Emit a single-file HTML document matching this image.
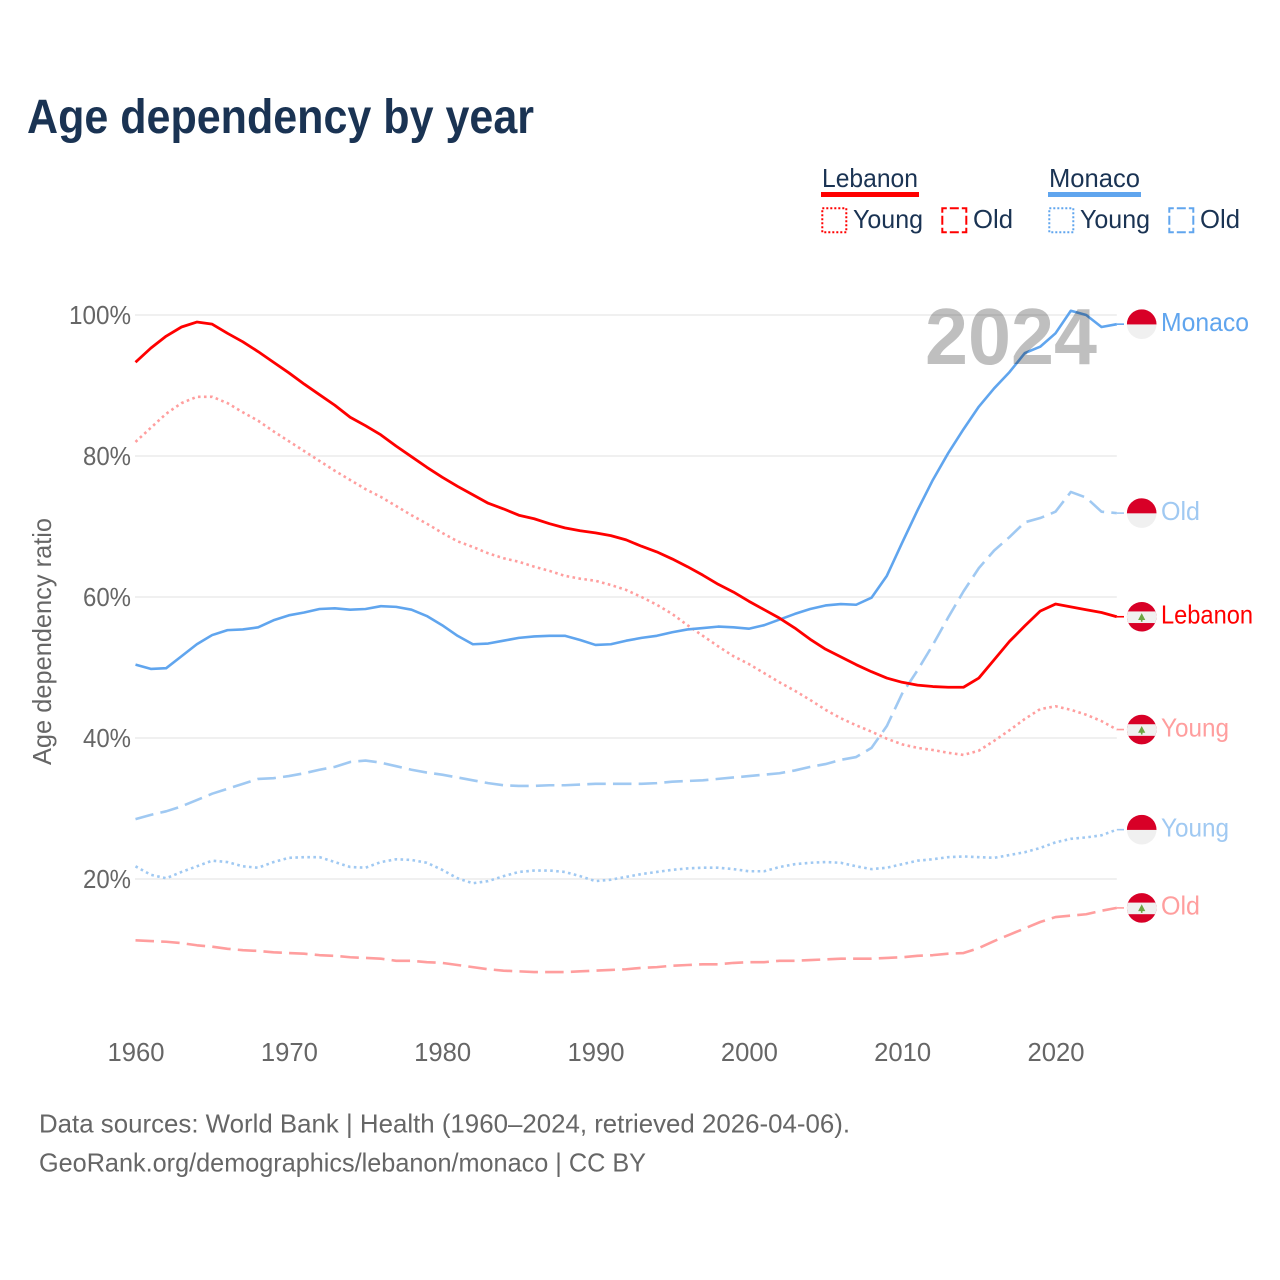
<!DOCTYPE html>
<html lang="en">
<head>
<meta charset="utf-8">
<title>Age dependency by year</title>
<style>
html,body{margin:0;padding:0;background:#fff;width:1280px;height:1280px;overflow:hidden}
svg{display:block}
text{font-family:"Liberation Sans",Arial,sans-serif}
</style>
</head>
<body>
<svg id="chart" xmlns="http://www.w3.org/2000/svg" width="1280" height="1280" viewBox="0 0 1280 1280">
  <defs>
    <clipPath id="flag-clip"><circle cx="0" cy="0" r="14.8"/></clipPath>
  </defs>
  <rect x="0" y="0" width="1280" height="1280" fill="#fff"/>
  <text x="27" y="133" font-size="48" font-weight="700" fill="#1a3353" textLength="507" lengthAdjust="spacingAndGlyphs">Age dependency by year</text>

  <g font-size="26" fill="#1a3353">
    <text x="822" y="187" textLength="96" lengthAdjust="spacingAndGlyphs">Lebanon</text>
    <rect x="821" y="192" width="98" height="5" fill="#ff0000"/>
    <rect x="822.3" y="208.3" width="24" height="24" fill="none" stroke="#ff0000" stroke-width="2" stroke-dasharray="2 2"/>
    <text x="853" y="228" textLength="70" lengthAdjust="spacingAndGlyphs">Young</text>
    <rect x="942.3" y="208.3" width="24" height="24" fill="none" stroke="#ff0000" stroke-width="2" stroke-dasharray="9 3" stroke-dashoffset="4.5"/>
    <text x="973" y="228" textLength="40" lengthAdjust="spacingAndGlyphs">Old</text>
    <text x="1049" y="187" textLength="91" lengthAdjust="spacingAndGlyphs">Monaco</text>
    <rect x="1048" y="192" width="93" height="5" fill="#60a5ee"/>
    <rect x="1049.3" y="208.3" width="24" height="24" fill="none" stroke="#60a5ee" stroke-width="2" stroke-dasharray="2 2"/>
    <text x="1080" y="228" textLength="70" lengthAdjust="spacingAndGlyphs">Young</text>
    <rect x="1169.3" y="208.3" width="24" height="24" fill="none" stroke="#60a5ee" stroke-width="2" stroke-dasharray="9 3" stroke-dashoffset="4.5"/>
    <text x="1200" y="228" textLength="40" lengthAdjust="spacingAndGlyphs">Old</text>
  </g>

  <g id="grid"></g>
  <g id="y-ticks" font-size="26" fill="#666"></g>
  <g id="x-ticks" font-size="26" fill="#666"></g>
  <text transform="translate(51,765) rotate(-90)" font-size="26" fill="#666" textLength="247" lengthAdjust="spacingAndGlyphs">Age dependency ratio</text>

  <g id="lines" fill="none" stroke-linejoin="round"></g>
  <text x="925" y="364" font-size="80" font-weight="700" fill="#000" fill-opacity="0.25" textLength="172" lengthAdjust="spacingAndGlyphs">2024</text>
  <g id="end-labels" font-size="26"></g>

  <g font-size="26" fill="#666">
    <text x="39" y="1132.5" textLength="811" lengthAdjust="spacingAndGlyphs">Data sources: World Bank | Health (1960–2024, retrieved 2026-04-06).</text>
    <text x="39" y="1171.5" textLength="607" lengthAdjust="spacingAndGlyphs">GeoRank.org/demographics/lebanon/monaco | CC BY</text>
  </g>
</svg>
<script>
const years = [1960,1961,1962,1963,1964,1965,1966,1967,1968,1969,1970,1971,1972,1973,1974,1975,1976,1977,1978,1979,1980,1981,1982,1983,1984,1985,1986,1987,1988,1989,1990,1991,1992,1993,1994,1995,1996,1997,1998,1999,2000,2001,2002,2003,2004,2005,2006,2007,2008,2009,2010,2011,2012,2013,2014,2015,2016,2017,2018,2019,2020,2021,2022,2023,2024];
const lebanonTotal = [93.3,95.3,97.0,98.3,99.0,98.7,97.4,96.2,94.8,93.3,91.8,90.2,88.7,87.2,85.5,84.3,83.0,81.4,79.9,78.4,77.0,75.7,74.5,73.3,72.5,71.6,71.1,70.4,69.8,69.4,69.1,68.7,68.1,67.2,66.4,65.4,64.3,63.1,61.8,60.7,59.4,58.2,57.0,55.6,54.0,52.6,51.5,50.4,49.4,48.5,47.9,47.5,47.3,47.2,47.2,48.5,51.1,53.7,55.9,58.0,59.0,58.6,58.2,57.8,57.2];
const lebanonYoung = [82.0,84.0,86.0,87.5,88.4,88.4,87.5,86.2,85.0,83.5,82.1,80.7,79.3,77.9,76.6,75.3,74.2,72.9,71.6,70.4,69.1,67.9,67.1,66.2,65.5,65.0,64.3,63.7,63.0,62.6,62.3,61.7,61.0,60.0,58.9,57.6,56.0,54.5,53.0,51.6,50.5,49.2,47.9,46.7,45.4,44.0,42.8,41.8,40.9,39.9,39.1,38.6,38.3,37.9,37.6,38.2,39.6,41.1,42.7,44.1,44.5,44.0,43.3,42.4,41.2];
const lebanonOld = [11.3,11.2,11.1,10.9,10.6,10.4,10.1,9.9,9.8,9.6,9.5,9.4,9.2,9.1,8.9,8.8,8.7,8.4,8.4,8.2,8.1,7.8,7.5,7.2,7.0,6.9,6.8,6.8,6.8,6.9,7.0,7.1,7.2,7.4,7.5,7.7,7.8,7.9,7.9,8.1,8.2,8.2,8.4,8.4,8.5,8.6,8.7,8.7,8.7,8.8,8.9,9.1,9.2,9.4,9.5,10.2,11.2,12.1,13.0,13.9,14.6,14.8,15.0,15.5,15.9];
const monacoTotal = [50.4,49.8,49.9,51.6,53.3,54.6,55.3,55.4,55.7,56.7,57.4,57.8,58.3,58.4,58.2,58.3,58.7,58.6,58.2,57.3,56.0,54.5,53.3,53.4,53.8,54.2,54.4,54.5,54.5,53.9,53.2,53.3,53.8,54.2,54.5,55.0,55.4,55.6,55.8,55.7,55.5,56.0,56.8,57.6,58.3,58.8,59.0,58.9,59.9,63.0,67.7,72.3,76.6,80.4,83.8,87.0,89.6,91.9,94.6,95.5,97.4,100.6,100.0,98.3,98.7];
const monacoYoung = [21.8,20.6,20.1,21.0,21.8,22.6,22.4,21.8,21.6,22.4,23.0,23.1,23.1,22.4,21.7,21.6,22.4,22.8,22.7,22.3,21.3,20.1,19.4,19.7,20.4,21.0,21.2,21.2,21.0,20.4,19.7,19.9,20.3,20.7,21.0,21.3,21.5,21.6,21.6,21.4,21.1,21.1,21.7,22.1,22.3,22.4,22.3,21.8,21.4,21.6,22.1,22.6,22.8,23.1,23.2,23.1,23.0,23.4,23.8,24.4,25.2,25.7,25.9,26.2,27.0];
const monacoOld = [28.5,29.1,29.6,30.3,31.2,32.1,32.8,33.5,34.2,34.3,34.6,35.0,35.5,35.9,36.6,36.8,36.5,36.0,35.5,35.1,34.8,34.4,34.0,33.6,33.3,33.2,33.2,33.3,33.3,33.4,33.5,33.5,33.5,33.5,33.6,33.8,33.9,34.0,34.2,34.4,34.6,34.8,35.0,35.4,35.9,36.3,36.9,37.3,38.6,41.7,46.3,49.6,53.2,57.1,60.8,64.1,66.6,68.5,70.6,71.2,72.1,74.9,74.1,72.1,71.9];
const yTickValues = [20,40,60,80,100];
const xTickValues = [1960,1970,1980,1990,2000,2010,2020];

const SVGNS = 'http://www.w3.org/2000/svg';
const xScale = year => 135.5 + (year - 1960) * (920 / 60);
const yScale = value => 1020 - value * 7.05;
const RIGHT_EDGE = xScale(2024);

function make(tag, attrs, parent, content) {
  const el = document.createElementNS(SVGNS, tag);
  Object.keys(attrs).forEach(k => el.setAttribute(k, attrs[k]));
  if (content !== undefined) el.textContent = content;
  parent.appendChild(el);
  return el;
}

const gridLayer = document.getElementById('grid');
const yLayer = document.getElementById('y-ticks');
yTickValues.forEach(v => {
  const line = make('line', {x1: 135, x2: RIGHT_EDGE, y1: yScale(v), y2: yScale(v), stroke: '#ececec', 'stroke-width': 1.5}, gridLayer);
  
  
  const w = v === 100 ? 62 : 48;
  const t = make('text', {x: 131, y: yScale(v) + 9, 'text-anchor': 'end', textLength: w, lengthAdjust: 'spacingAndGlyphs'}, yLayer, v + '%');
  
  
});

const xLayer = document.getElementById('x-ticks');
xTickValues.forEach(y => {
  const t = make('text', {x: xScale(y) + 0.5, y: 1061, 'text-anchor': 'middle', textLength: 57, lengthAdjust: 'spacingAndGlyphs'}, xLayer, String(y));
  
  
});

const lineLayer = document.getElementById('lines');
function drawSeries(name, values, color, width, dash) {
  const n = Math.min(values.length, years.length);
  let d = '';
  for (let i = 0; i < n; i++) {
    d += (i ? 'L' : 'M') + xScale(years[i]).toFixed(2) + ' ' + yScale(values[i]).toFixed(2);
  }
  const attrs = {d: d, stroke: color, 'stroke-width': width};
  if (dash) attrs['stroke-dasharray'] = dash;
  const p = make('path', attrs, lineLayer);
  
  
  const yEnd = yScale(values[n - 1]);
  const c = make('line', {x1: RIGHT_EDGE, x2: 1124, y1: yEnd, y2: yEnd, stroke: color, 'stroke-width': 1.6}, lineLayer);
  
  
}

const RED = '#ff0000', BLUE = '#60a5ee', LIGHT_RED = '#ff9e9e', LIGHT_BLUE = '#a0c9f2';
drawSeries('lebanon-young', lebanonYoung, LIGHT_RED, 2.6, '2.6 3.4');
drawSeries('lebanon-old', lebanonOld, LIGHT_RED, 2.6, '18.5 7.2');
drawSeries('monaco-young', monacoYoung, LIGHT_BLUE, 2.6, '2.6 3.4');
drawSeries('monaco-old', monacoOld, LIGHT_BLUE, 2.6, '18.5 7.2');
drawSeries('monaco-total', monacoTotal, BLUE, 2.6);
drawSeries('lebanon-total', lebanonTotal, RED, 2.8);

const labelLayer = document.getElementById('end-labels');
function drawFlag(group, country) {
  const clip = make('g', {'clip-path': 'url(#flag-clip)'}, group);
  if (country === 'monaco') {
    make('rect', {x: -15, y: -15, width: 30, height: 15.3, fill: '#d80027'}, clip);
    make('rect', {x: -15, y: 0.3, width: 30, height: 15, fill: '#f0f0f0'}, clip);
  } else {
    make('rect', {x: -15, y: -15, width: 30, height: 30, fill: '#d80027'}, clip);
    make('rect', {x: -15, y: -5.3, width: 30, height: 11.6, fill: '#f0f0f0'}, clip);
    make('polygon', {points: '0,-3.6 3.6,3.2 0.8,3.2 0.8,5 -0.8,5 -0.8,3.2 -3.6,3.2', fill: '#6da544'}, clip);
  }
}
function drawEndLabel(name, values, text, width, color, country) {
  const yEnd = yScale(values[values.length - 1]);
  const g = make('g', {transform: 'translate(1141.7,' + yEnd.toFixed(2) + ')'}, labelLayer);
  
  
  drawFlag(g, country);
  const t = make('text', {x: 1161, y: yEnd + 6.8, fill: color, textLength: width, lengthAdjust: 'spacingAndGlyphs'}, labelLayer, text);
  
  
}
drawEndLabel('monaco-total', monacoTotal, 'Monaco', 88, BLUE, 'monaco');
drawEndLabel('monaco-old', monacoOld, 'Old', 39, LIGHT_BLUE, 'monaco');
drawEndLabel('lebanon-total', lebanonTotal, 'Lebanon', 92, RED, 'lebanon');
drawEndLabel('lebanon-young', lebanonYoung, 'Young', 68, LIGHT_RED, 'lebanon');
drawEndLabel('monaco-young', monacoYoung, 'Young', 68, LIGHT_BLUE, 'monaco');
drawEndLabel('lebanon-old', lebanonOld, 'Old', 39, LIGHT_RED, 'lebanon');
</script>
</body>
</html>
